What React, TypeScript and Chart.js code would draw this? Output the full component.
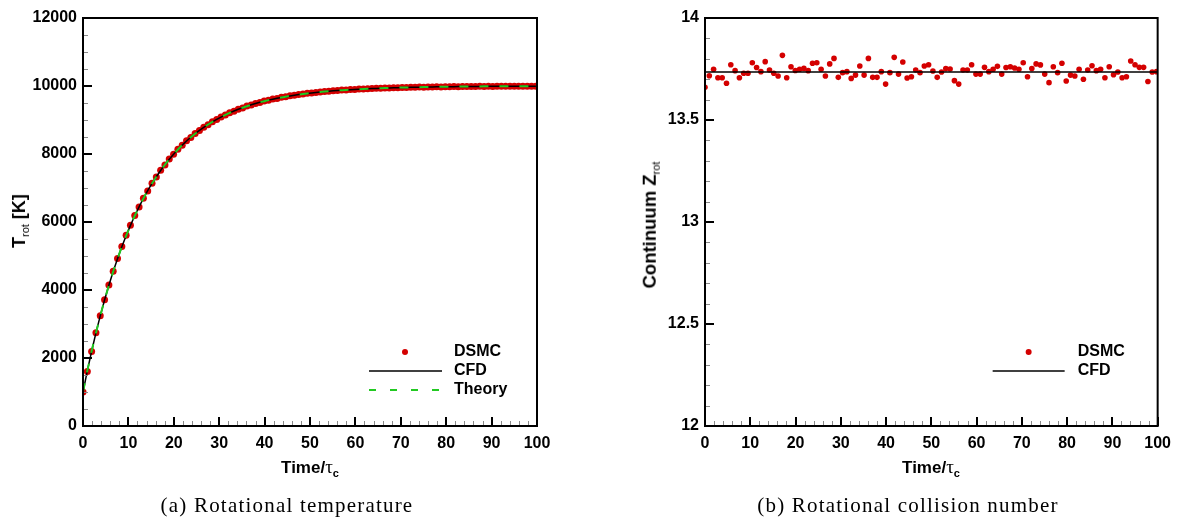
import React, { useEffect, useRef } from 'react';
import { Chart, registerables } from 'chart.js';

Chart.register(...registerables);

// ---------- data ----------
const times = [
  0, 0.95, 1.9, 2.85, 3.8, 4.75, 5.7, 6.65, 7.6, 8.55,
  9.5, 10.45, 11.4, 12.35, 13.3, 14.25, 15.2, 16.15, 17.1, 18.05,
  19, 19.95, 20.9, 21.85, 22.8, 23.75, 24.7, 25.65, 26.6, 27.55,
  28.5, 29.45, 30.4, 31.35, 32.3, 33.25, 34.2, 35.15, 36.1, 37.05,
  38, 38.95, 39.9, 40.85, 41.8, 42.75, 43.7, 44.65, 45.6, 46.55,
  47.5, 48.45, 49.4, 50.35, 51.3, 52.25, 53.2, 54.15, 55.1, 56.05,
  57, 57.95, 58.9, 59.85, 60.8, 61.75, 62.7, 63.65, 64.6, 65.55,
  66.5, 67.45, 68.4, 69.35, 70.3, 71.25, 72.2, 73.15, 74.1, 75.05,
  76, 76.95, 77.9, 78.85, 79.8, 80.75, 81.7, 82.65, 83.6, 84.55,
  85.5, 86.45, 87.4, 88.35, 89.3, 90.25, 91.2, 92.15, 93.1, 94.05,
  95, 95.95, 96.9, 97.85, 98.8, 99.75,
];

const tempDsmc = [
  1000, 1605, 2190, 2740, 3240, 3715, 4150, 4555, 4930, 5280,
  5610, 5905, 6190, 6440, 6695, 6915, 7140, 7325, 7520, 7680,
  7850, 7990, 8140, 8255, 8390, 8485, 8605, 8690, 8790, 8860,
  8950, 9015, 9090, 9145, 9212, 9258, 9318, 9356, 9410, 9442,
  9488, 9516, 9557, 9580, 9617, 9635, 9668, 9683, 9712, 9726,
  9751, 9762, 9784, 9793, 9812, 9820, 9839, 9844, 9860, 9864,
  9879, 9882, 9895, 9897, 9909, 9911, 9922, 9923, 9932, 9933,
  9942, 9941, 9950, 9949, 9957, 9955, 9963, 9960, 9968, 9966,
  9973, 9970, 9977, 9974, 9980, 9977, 9983, 9979, 9985, 9982,
  9988, 9984, 9990, 9986, 9991, 9987, 9993, 9989, 9994, 9990,
  9995, 9991, 9996, 9992, 9996, 9994,
];

const tempCfd = [
  1000, 1621, 2199, 2737, 3238, 3705, 4139, 4544, 4920, 5271,
  5597, 5901, 6184, 6447, 6692, 6920, 7133, 7331, 7515, 7686,
  7846, 7995, 8133, 8262, 8382, 8493, 8597, 8694, 8784, 8868,
  8946, 9019, 9087, 9150, 9208, 9263, 9314, 9361, 9405, 9446,
  9484, 9520, 9553, 9584, 9613, 9639, 9664, 9687, 9709, 9729,
  9748, 9765, 9781, 9796, 9810, 9823, 9836, 9847, 9858, 9867,
  9877, 9885, 9893, 9900, 9907, 9914, 9920, 9925, 9930, 9935,
  9940, 9944, 9948, 9951, 9955, 9958, 9961, 9963, 9966, 9968,
  9971, 9973, 9975, 9976, 9978, 9979, 9981, 9982, 9983, 9985,
  9986, 9987, 9988, 9989, 9989, 9990, 9991, 9992, 9992, 9993,
  9993, 9994, 9994, 9995, 9995, 9995,
];

const tempTheory = tempCfd;

const zRotDsmc = [
  13.660, 13.717, 13.749, 13.707, 13.707, 13.680, 13.771, 13.742, 13.707, 13.729,
  13.729, 13.781, 13.757, 13.737, 13.786, 13.745, 13.729, 13.716, 13.817, 13.707,
  13.761, 13.743, 13.749, 13.753, 13.742, 13.778, 13.781, 13.749, 13.716, 13.775,
  13.802, 13.709, 13.732, 13.737, 13.704, 13.720, 13.765, 13.720, 13.802, 13.709,
  13.709, 13.737, 13.676, 13.732, 13.807, 13.725, 13.784, 13.706, 13.712, 13.745,
  13.732, 13.765, 13.771, 13.740, 13.709, 13.735, 13.752, 13.750, 13.693, 13.676,
  13.745, 13.745, 13.771, 13.725, 13.725, 13.758, 13.737, 13.749, 13.763, 13.725,
  13.757, 13.761, 13.755, 13.749, 13.781, 13.712, 13.752, 13.775, 13.770, 13.725,
  13.683, 13.761, 13.732, 13.778, 13.691, 13.720, 13.716, 13.749, 13.700, 13.745,
  13.766, 13.742, 13.749, 13.707, 13.761, 13.722, 13.735, 13.707, 13.712, 13.789,
  13.771, 13.758, 13.758, 13.689, 13.735, 13.737,
];

const zRotCfdTime = [0, 100];
const zRotCfd = [13.735, 13.735];

const xTickLabels = [0, 10, 20, 30, 40, 50, 60, 70, 80, 90, 100];
const tempTickLabels = [0, 2000, 4000, 6000, 8000, 10000, 12000];
const zTickLabels = [12, 12.5, 13, 13.5, 14];

// ---------- styling ----------
const RED = '#d40000';
const GREEN = '#22c922';
const SANS = '"Liberation Sans", Arial, Helvetica, sans-serif';
const tickFont = { family: SANS, size: 16, weight: 'bold' as const };

const pts = (xs: number[], ys: number[]) => xs.map((x, i) => ({ x, y: ys[i] }));

const framePlugin = {
  id: 'frame',
  afterDatasetsDraw(chart: any, _args: any, opts: any) {
    const { ctx, chartArea: a, scales } = chart;
    ctx.save();
    const drawAxisTicks = (scale: any, minor: number, major: number, horizontal: boolean) => {
      const min = scale.min;
      const max = scale.max;
      const n = Math.round((max - min) / minor);
      for (let k = 0; k <= n; k++) {
        const v = min + k * minor;
        const r = v / major;
        const isMajor = Math.abs(r - Math.round(r)) < 1e-6;
        const len = isMajor ? 9 : 5;
        ctx.beginPath();
        ctx.strokeStyle = isMajor ? '#000' : '#8a8a8a';
        ctx.lineWidth = isMajor ? 2 : 1;
        const p = scale.getPixelForValue(v);
        if (horizontal) {
          const px = Math.round(p) + (isMajor ? 0 : 0.5);
          ctx.moveTo(px, a.bottom);
          ctx.lineTo(px, a.bottom - len);
        } else {
          const py = Math.round(p) + (isMajor ? 0 : 0.5);
          ctx.moveTo(a.left, py);
          ctx.lineTo(a.left + len, py);
        }
        ctx.stroke();
      }
    };
    drawAxisTicks(scales.x, opts.xMinor, opts.xMajor, true);
    drawAxisTicks(scales.y, opts.yMinor, opts.yMajor, false);

    ctx.strokeStyle = '#000';
    ctx.lineWidth = 2;
    ctx.strokeRect(a.left, a.top, a.right - a.left, a.bottom - a.top);

    // legend
    const items = opts.legend as any[];
    ctx.font = `bold 16px ${SANS}`;
    ctx.textBaseline = 'middle';
    ctx.textAlign = 'left';
    items.forEach((it: any, i: number) => {
      const y = a.bottom - opts.legendBottom + i * 19;
      const textX = a.right - opts.legendTextOff;
      if (it.kind === 'dot') {
        ctx.beginPath();
        ctx.fillStyle = RED;
        ctx.arc(a.right - opts.legendDotOff, y, 3, 0, Math.PI * 2);
        ctx.fill();
      } else {
        ctx.beginPath();
        ctx.strokeStyle = it.color;
        ctx.lineWidth = it.kind === 'dash' ? 2 : 1.5;
        ctx.setLineDash(it.kind === 'dash' ? [7, 14] : []);
        ctx.moveTo(a.right - opts.legendLineStart, y);
        ctx.lineTo(a.right - opts.legendLineEnd, y);
        ctx.stroke();
        ctx.setLineDash([]);
      }
      ctx.fillStyle = '#000';
      ctx.fillText(it.text, textX, y);
    });
    ctx.restore();
  },
};

function baseScales(yMin: number, yMax: number, yStep: number, yWidth: number, xHeight: number) {
  return {
    x: {
      type: 'linear' as const,
      min: 0,
      max: 100,
      afterBuildTicks: (s: any) => { s.ticks = xTickLabels.map((v) => ({ value: v })); },
      ticks: { stepSize: 10, font: tickFont, color: '#000', padding: 8, maxRotation: 0, autoSkip: false, callback: (v: any) => String(v) },
      grid: { display: false, drawTicks: false },
      border: { display: false },
      afterFit: (s: any) => { s.height = xHeight; },
    },
    y: {
      type: 'linear' as const,
      min: yMin,
      max: yMax,
      ticks: { stepSize: yStep, font: tickFont, color: '#000', padding: 6, autoSkip: false, callback: (v: any) => String(v) },
      grid: { display: false, drawTicks: false },
      border: { display: false },
      afterFit: (s: any) => { s.width = yWidth; },
    },
  };
}

function leftConfig(): any {
  const scales: any = baseScales(0, 12000, 2000, 83, 54);
  scales.y.afterBuildTicks = (s: any) => { s.ticks = tempTickLabels.map((v) => ({ value: v })); };
  return {
    type: 'scatter',
    data: {
      datasets: [
        {
          label: 'Theory', data: pts(times, tempTheory), showLine: true, borderColor: GREEN,
          borderWidth: 2, borderDash: [9, 11], pointRadius: 0, order: 0, tension: 0,
        },
        {
          label: 'CFD', data: pts(times, tempCfd), showLine: true, borderColor: '#000',
          borderWidth: 1.5, pointRadius: 0, order: 1, tension: 0,
        },
        {
          label: 'DSMC', data: pts(times, tempDsmc), showLine: false, pointRadius: 3.5,
          pointBackgroundColor: RED, pointBorderWidth: 0, pointBorderColor: RED, order: 2,
        },
      ],
    },
    options: {
      responsive: false,
      animation: false,
      events: [],
      layout: { padding: { top: 18, right: 53, left: 0, bottom: 0 } },
      plugins: {
        legend: { display: false },
        tooltip: { enabled: false },
        frame: {
          xMinor: 2, xMajor: 10, yMinor: 500, yMajor: 2000,
          legendBottom: 74, legendDotOff: 132, legendLineStart: 168, legendLineEnd: 95, legendTextOff: 83,
          legend: [
            { kind: 'dot', text: 'DSMC' },
            { kind: 'line', color: '#000', text: 'CFD' },
            { kind: 'dash', color: GREEN, text: 'Theory' },
          ],
        },
      },
      scales,
    },
    plugins: [framePlugin],
  };
}

function rightConfig(): any {
  const scales: any = baseScales(12, 14, 0.5, 85, 54);
  scales.y.afterBuildTicks = (s: any) => { s.ticks = zTickLabels.map((v) => ({ value: v })); };
  return {
    type: 'scatter',
    data: {
      datasets: [
        {
          label: 'CFD', data: pts(zRotCfdTime, zRotCfd), showLine: true, borderColor: '#000',
          borderWidth: 1.5, pointRadius: 0, order: 0,
        },
        {
          label: 'DSMC', data: pts(times, zRotDsmc), showLine: false, pointRadius: 2.8,
          pointBackgroundColor: RED, pointBorderWidth: 0, pointBorderColor: RED, order: 1,
        },
      ],
    },
    options: {
      responsive: false,
      animation: false,
      events: [],
      layout: { padding: { top: 18, right: 21, left: 0, bottom: 0 } },
      plugins: {
        legend: { display: false },
        tooltip: { enabled: false },
        frame: {
          xMinor: 2, xMajor: 10, yMinor: 0.1, yMajor: 0.5,
          legendBottom: 74, legendDotOff: 129, legendLineStart: 165, legendLineEnd: 93, legendTextOff: 80,
          legend: [
            { kind: 'dot', text: 'DSMC' },
            { kind: 'line', color: '#000', text: 'CFD' },
          ],
        },
      },
      scales,
    },
    plugins: [framePlugin],
  };
}

const titleStyle: React.CSSProperties = {
  position: 'absolute',
  fontFamily: SANS,
  fontWeight: 'bold',
  fontSize: 17,
  color: '#000',
  whiteSpace: 'nowrap',
  lineHeight: 1,
};

const subStyle: React.CSSProperties = {
  fontSize: 11,
  verticalAlign: '-4px',
  fontWeight: 'normal',
  lineHeight: 0,
};

const captionStyle: React.CSSProperties = {
  position: 'absolute',
  fontFamily: '"Liberation Serif", "Times New Roman", serif',
  fontSize: 21,
  letterSpacing: 1.2,
  color: '#000',
  whiteSpace: 'nowrap',
  lineHeight: 1,
  transform: 'translate(-50%, -50%)',
};

function TimeTitle({ cx }: { cx: number }) {
  return (
    <div style={{ ...titleStyle, left: cx, top: 466, transform: 'translate(-50%, -50%)' }}>
      Time/<span style={{ fontFamily: '"Liberation Serif", serif', fontWeight: 'normal', fontSize: 19 }}>τ</span>
      <sub style={{ ...subStyle, fontWeight: 'bold' }}>c</sub>
    </div>
  );
}

export default function App() {
  const leftRef = useRef<HTMLCanvasElement>(null);
  const rightRef = useRef<HTMLCanvasElement>(null);

  useEffect(() => {
    const c1 = new Chart(leftRef.current as HTMLCanvasElement, leftConfig());
    const c2 = new Chart(rightRef.current as HTMLCanvasElement, rightConfig());
    return () => {
      c1.destroy();
      c2.destroy();
    };
  }, []);

  return (
    <div style={{ position: 'fixed', left: 0, top: 0, width: 1179, height: 517, background: '#fff', overflow: 'hidden' }}>
      <canvas ref={leftRef} width={590} height={480} style={{ position: 'absolute', left: 0, top: 0, width: 590, height: 480 }} />
      <canvas ref={rightRef} width={559} height={480} style={{ position: 'absolute', left: 620, top: 0, width: 559, height: 480 }} />

      <TimeTitle cx={310} />
      <TimeTitle cx={931} />

      <div style={{ ...titleStyle, fontSize: 18, left: 19, top: 221, transform: 'translate(-50%, -50%) rotate(-90deg)' }}>
        T<sub style={subStyle}>rot</sub> [K]
      </div>
      <div style={{ ...titleStyle, fontSize: 18.5, left: 650, top: 225, transform: 'translate(-50%, -50%) rotate(-90deg)' }}>
        Continuum Z<sub style={subStyle}>rot</sub>
      </div>

      <div style={{ ...captionStyle, left: 287, top: 505 }}>(a) Rotational temperature</div>
      <div style={{ ...captionStyle, left: 908, top: 505 }}>(b) Rotational collision number</div>
    </div>
  );
}
